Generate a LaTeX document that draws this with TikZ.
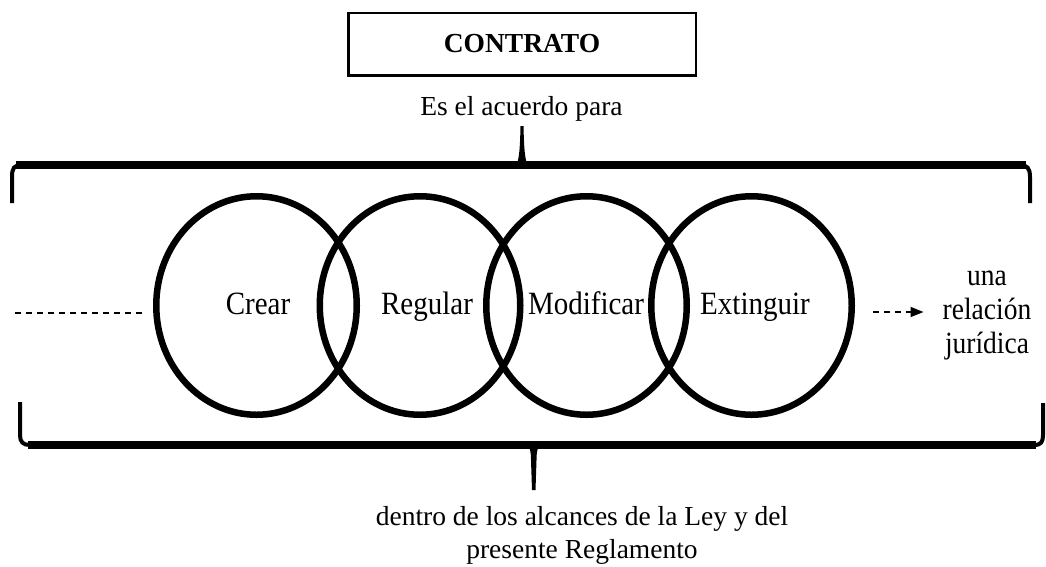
\documentclass[tikz,border=0pt]{standalone}
\usepackage{fontspec}
\setmainfont{Liberation Serif}
\usetikzlibrary{shapes.geometric,arrows.meta}
\newcommand{\tallish}[1]{\scalebox{1}[1.12]{#1}}
\begin{document}
\begin{tikzpicture}[x=1pt,y=-1pt,
  ring/.style={ellipse, draw, line width=6.5pt, minimum width=200.5pt, minimum height=218.5pt, inner sep=0pt},
  lab/.style={font=\fontsize{29}{34}\selectfont, anchor=base, inner sep=0pt},
  txt/.style={font=\fontsize{27.5}{34}\selectfont, anchor=base, inner sep=0pt},
  dashline/.style={line width=1.5pt, dash pattern=on 6pt off 5pt},
  bracethick/.style={line width=8pt},
  bracethin/.style={line width=4pt}]
\useasboundingbox (0,0) rectangle (1046,566);

% title box
\node[draw, line width=2.5pt, minimum width=347.5pt, minimum height=62.5pt, inner sep=0pt,
      font=\bfseries\fontsize{27.5}{33}\selectfont] (contrato) at (522,44) {CONTRATO};
\node[txt] (es) at (521.5,115) {Es el acuerdo para};

% top brace
\draw[bracethick] (16,165) -- (1026,165);
\draw[bracethin] (12,203) -- (12,177) .. controls (12,168) and (14,165) .. (22,165);
\draw[bracethin] (1020,165) .. controls (1027,165) and (1030,168) .. (1030,177) -- (1030,203);
\fill (516,166) .. controls (519,160) and (520,150) .. (520.5,126) -- (523.5,126)
      .. controls (524,150) and (525,160) .. (528,166) -- cycle;

% circles
\node[ring] (c1) at (256.5,305.5) {};
\node[ring] (c2) at (420,305.5) {};
\node[ring] (c3) at (586.5,305.5) {};
\node[ring] (c4) at (751.5,305.5) {};
\node[lab] (l1) at (258,314) {\tallish{Crear}};
\node[lab] (l2) at (427,314) {\tallish{Regular}};
\node[lab] (l3) at (586,314) {\tallish{Modificar}};
\node[lab] (l4) at (755,314) {\tallish{Extinguir}};

% right text
\node[txt] (rel1) at (987,285) {\tallish{una}};
\node[txt] (rel2) at (987,319) {\tallish{relación}};
\node[txt] (rel3) at (987,353) {\tallish{jurídica}};

% dashed lines
\coordinate (d0) at (15,313);
\coordinate (d1) at (143,313);
\draw[dashline] (d0) -- (d1);
\coordinate (a0) at (873,312);
\draw[dashline, shorten >=19pt, -{Triangle[length=13pt,width=10pt]}] (a0) -- (a0 -| rel2.west);

% bottom brace
\draw[bracethick] (28,445) -- (1036,445);
\draw[bracethin] (20,402) -- (20,435) .. controls (20,442) and (23,445) .. (30,445);
\draw[bracethin] (1034,445) .. controls (1041,445) and (1043,442) .. (1043,435) -- (1043,403);
\fill (527,444) .. controls (530,447) and (531,452) .. (531,460) -- (532,490) -- (535.5,490)
      -- (536.5,460) .. controls (536.5,452) and (537.5,447) .. (540.5,444) -- cycle;

% bottom text
\node[txt] (b1) at (582,525) {dentro de los alcances de la Ley y del};
\node[txt] (b2) at (582,558) {presente Reglamento};
\end{tikzpicture}
\end{document}
